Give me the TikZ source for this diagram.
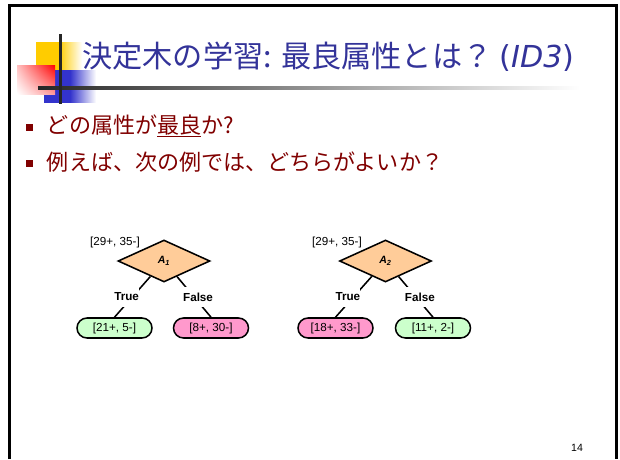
\documentclass[tikz,border=0pt]{standalone}
\usepackage{fontspec}
\setmainfont{Liberation Sans}
\newfontfamily\jpfont{Noto Sans CJK JP}
\newfontfamily\idfont{DejaVu Sans}
\usetikzlibrary{shapes.geometric,shadings}
\definecolor{titleBlue}{RGB}{51,51,153}
\definecolor{bulletRed}{RGB}{128,0,0}
\definecolor{attrOrange}{RGB}{255,204,153}
\definecolor{leafGreen}{RGB}{204,255,204}
\definecolor{leafPink}{RGB}{255,153,204}
\definecolor{decoYellow}{RGB}{255,204,0}
\definecolor{decoBlue}{RGB}{51,51,204}
\tikzset{
  attr/.style={diamond,draw,line width=1.1pt,fill=attrOrange,aspect=2.2,minimum width=2.3cm,minimum height=1.05cm,inner sep=0pt,font=\fontsize{7.5}{8}\selectfont\bfseries\itshape},
  leaf/.style={draw,line width=1.1pt,rounded corners=0.25cm,minimum width=1.875cm,minimum height=0.5cm,inner sep=0pt,font=\fontsize{8.3}{10}\selectfont},
  countlabel/.style={inner sep=0pt,font=\fontsize{8.3}{10}\selectfont},
  branch/.style={fill=white,inner sep=0pt,minimum height=0.52cm,font=\fontsize{8.3}{10}\selectfont\bfseries},
  branchline/.style={line width=1.1pt},
  bullet/.style={fill=bulletRed,minimum size=0.175cm,inner sep=0pt},
  bullettext/.style={anchor=base west,inner sep=0pt,text=bulletRed,font=\jpfont\fontsize{15.7}{18}\selectfont}
}
\begin{document}
\begin{tikzpicture}
  \useasboundingbox (0,0) rectangle (15.5,-11.475);
  % Slide frame
  \draw[line width=1.9pt] (0.2325,-11.475) -- (0.2325,-0.1375) -- (15.4175,-0.1375) -- (15.4175,-11.475);

  % Title decoration
  \shade[left color=decoYellow,right color=white,middle color=decoYellow] (0.9,-1.05) rectangle (2.05,-1.75);
  \shade[left color=decoBlue,right color=white,middle color=decoBlue] (1.1,-1.75) rectangle (2.4,-2.55);
  \shade[upper left=red!25,upper right=red,lower left=white,lower right=red!40] (0.425,-1.625) rectangle (1.375,-2.35);
  \shade[left color=black!85,right color=white] (0.95,-2.17) rectangle (14.5,-2.245);
  \draw[line width=1.9pt,black!85] (1.5075,-0.85) -- (1.5075,-2.6);

  % Title and bullets
  \node[anchor=base west,inner sep=0pt,text=titleBlue,font=\jpfont\fontsize{21.5}{24}\selectfont] (title) at (2.05,-1.675) {決定木の学習: 最良属性とは？ {\idfont(}{\idfont\itshape ID3\/}{\idfont)}};
  \node[bullet] (b1) at (0.7325,-3.175) {};
  \node[bullettext] (q1) at (1.1675,-3.325) {どの属性が\underline{最良}か?};
  \node[bullet] (b2) at (0.7325,-4.0825) {};
  \node[bullettext] (q2) at (1.1675,-4.25) {例えば、次の例では、どちらがよいか？};

  % Tree for A1
  \node[countlabel] (c1) at (2.875,-6.05) {[29+, 35-]};
  \node[attr] (A1) at (4.1,-6.525) {A\textsubscript{1}};
  \node[leaf,fill=leafGreen] (L1) at (2.8625,-8.2) {[21+, 5-]};
  \node[leaf,fill=leafPink] (R1) at (5.275,-8.2) {[8+, 30-]};
  \draw[branchline] (A1) -- (L1.north) node[branch,midway,xshift=-0.145cm] (t1) {True};
  \draw[branchline] (A1) -- (R1.north) node[branch,midway,xshift=0.1cm] (f1) {False};

  % Tree for A2
  \node[countlabel] (c2) at (8.425,-6.05) {[29+, 35-]};
  \node[attr] (A2) at (9.6375,-6.525) {A\textsubscript{2}};
  \node[leaf,fill=leafPink] (L2) at (8.3875,-8.2) {[18+, 33-]};
  \node[leaf,fill=leafGreen] (R2) at (10.825,-8.2) {[11+, 2-]};
  \draw[branchline] (A2) -- (L2.north) node[branch,midway,xshift=-0.145cm] (t2) {True};
  \draw[branchline] (A2) -- (R2.north) node[branch,midway,xshift=0.1cm] (f2) {False};

  % Page number
  \node[font=\fontsize{7.5}{9}\selectfont] (page) at (14.425,-11.2) {14};
\end{tikzpicture}
\end{document}
